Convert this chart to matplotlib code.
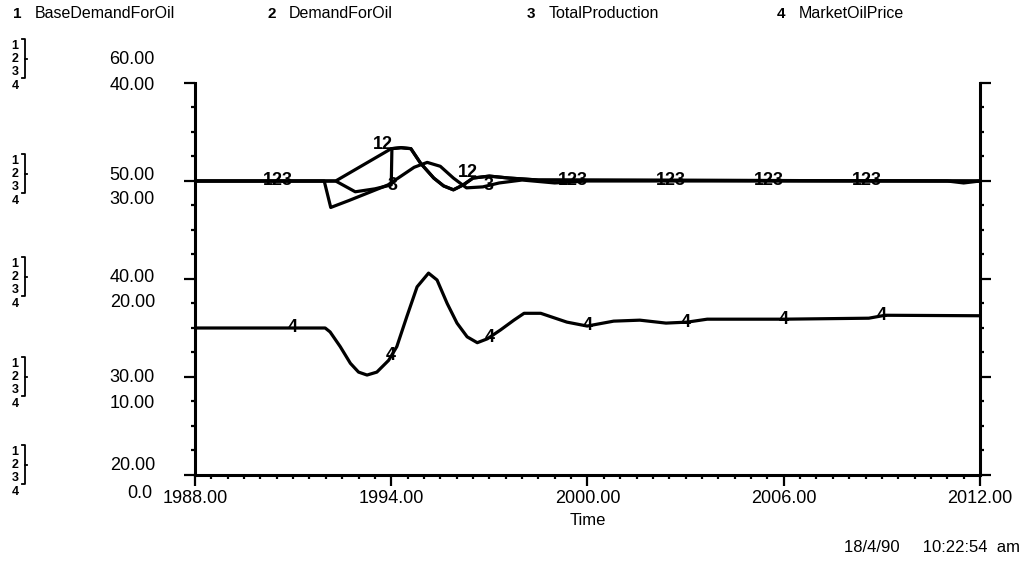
import numpy as np
import matplotlib
matplotlib.use("Agg")
import matplotlib.pyplot as plt
from matplotlib.lines import Line2D
from matplotlib.ticker import MultipleLocator

plt.rcParams['font.family'] = ['Liberation Sans', 'DejaVu Sans']

# --- series (time in years) ---
# 1..3 share the 20-60 scale, 4 uses the 0-40 scale
BASE_T = [1988, 1992.3, 1992.9, 1993.5, 1994.0, 1994.02, 1994.3, 1994.6, 1994.9, 1995.3,
          1995.6, 1995.9, 1996.2, 1996.5, 1997.0, 1997.6, 1998.5, 2012]
BASE_V = [50.0, 50.0, 48.9, 49.2, 49.6, 53.3, 53.4, 53.3, 51.8, 50.3,
          49.5, 49.1, 49.6, 50.3, 50.5, 50.3, 50.1, 50.0]

DEMAND_T = [1988, 1992.3, 1994.0, 1994.3, 1994.6, 1994.9, 1995.3,
            1995.6, 1995.9, 1996.2, 1996.5, 1997.0, 1997.6, 1998.5, 2012]
DEMAND_V = [50.0, 50.0, 53.3, 53.4, 53.3, 51.8, 50.3,
            49.5, 49.1, 49.6, 50.3, 50.5, 50.3, 50.1, 50.0]

PROD_T = [1988, 1991.95, 1992.15, 1992.7, 1993.3, 1993.9, 1994.3, 1994.7, 1995.1, 1995.5,
          1995.9, 1996.3, 1996.8, 1997.3, 1998.0, 1999.0, 2000.0, 2011.0, 2011.5, 2012]
PROD_V = [50.0, 50.0, 47.3, 48.0, 48.8, 49.6, 50.5, 51.4, 51.9, 51.5,
          50.3, 49.3, 49.4, 49.8, 50.1, 49.8, 50.0, 50.0, 49.8, 50.0]

PRICE_T = [1988, 1991.98, 1992.13, 1992.44, 1992.75, 1993.0, 1993.26, 1993.56, 1993.92,
           1994.17, 1994.48, 1994.79, 1995.14, 1995.4, 1995.71, 1996.01, 1996.32, 1996.63,
           1996.94, 1997.34, 1997.75, 1998.06, 1998.57, 1999.37, 1999.99, 2000.8, 2001.6,
           2002.4, 2003.05, 2003.66, 2006.0, 2008.6, 2009.1, 2012]
PRICE_V = [15.0, 15.0, 14.6, 13.1, 11.4, 10.5, 10.2, 10.5, 11.7,
           13.1, 16.2, 19.2, 20.6, 19.9, 17.5, 15.5, 14.1, 13.5,
           13.9, 14.8, 15.8, 16.5, 16.5, 15.6, 15.2, 15.7, 15.8,
           15.5, 15.6, 15.9, 15.9, 16.0, 16.3, 16.25]

NAMES = ["BaseDemandForOil", "DemandForOil", "TotalProduction", "MarketOilPrice"]
LEFT_TOP = [20, 30, 40, 50, 60]          # scale for 1-3
LEFT_BOT = [0, 10, 20, 30, 40]           # scale for 4
XTICKS = [1988, 1994, 2000, 2006, 2012]

# curve labels on the 1-3 scale: (text, time, value)
TOP_LABELS = [("123", 1990.54, 50.0), ("12", 1993.75, 53.7), ("3", 1994.03, 49.5),
              ("12", 1996.33, 50.9), ("3", 1996.97, 49.5), ("123", 1999.54, 50.0),
              ("123", 2002.54, 50.0), ("123", 2005.54, 50.0), ("123", 2008.54, 50.0)]
PRICE_LABEL_T = [1991, 1994, 1997, 2000, 2003, 2006, 2009]

W, H = 1029, 573
fig = plt.figure(figsize=(W / 100, H / 100), dpi=100)
fx = lambda px: px / W
fy = lambda py: 1 - py / H
ax = fig.add_axes([fx(195), fy(475), fx(980) - fx(195), fy(83) - fy(475)])
ax4 = ax.twinx()

k = dict(color="black", lw=2.3, solid_joinstyle="round")
ax.plot(BASE_T, BASE_V, **k)
ax.plot(DEMAND_T, DEMAND_V, **k)
ax.plot(PROD_T, PROD_V, **k)
ax4.plot(PRICE_T, PRICE_V, **k)

ax.set_xlim(1988, 2012)
ax.set_ylim(20, 60)
ax4.set_ylim(0, 40)

for txt, t, v in TOP_LABELS:
    ax.text(t, v, txt, ha="center", va="center", fontsize=13, fontweight="bold")
for t in PRICE_LABEL_T:
    ax4.text(t, np.interp(t, PRICE_T, PRICE_V), "4", ha="center", va="center",
             fontsize=13, fontweight="bold")

# frame: left / right / bottom only
ax.spines["top"].set_visible(False)
for s in ["left", "right", "bottom"]:
    ax.spines[s].set_linewidth(2.2)
for s in ax4.spines.values():
    s.set_visible(False)
ax4.tick_params(right=False, labelright=False)

ax.set_yticks(LEFT_TOP)
ax.yaxis.set_minor_locator(MultipleLocator(2.5))
ax.tick_params(axis="y", which="both", left=True, right=True, labelleft=False,
               direction="out", width=1.6)
ax.tick_params(axis="y", which="major", length=8)
ax.tick_params(axis="y", which="minor", length=3)

ax.set_xticks(XTICKS)
ax.set_xticklabels([f"{x:.2f}" for x in XTICKS], fontsize=13)
ax.xaxis.set_minor_locator(MultipleLocator(0.5))
ax.tick_params(axis="x", which="major", direction="out", length=8, width=1.6, pad=3)
ax.tick_params(axis="x", which="minor", direction="out", length=3, width=1.6)
ax.set_xlabel("Time", fontsize=12, labelpad=4)

# header legend
for i, (name, x) in enumerate(zip(NAMES, [13, 267, 527, 777])):
    fig.text(fx(x), fy(14), f"{i + 1}", fontsize=11, fontweight="bold", va="center")
    fig.text(fx(x + 22), fy(14), name, fontsize=11.5, va="center")

# stacked scale labels on the left
first_line = [60, 175, 278, 378, 466]
for top_v, bot_v, y1 in zip(LEFT_TOP[::-1], LEFT_BOT[::-1], first_line):
    fig.text(fx(155), fy(y1), f"{top_v:.2f}", ha="right", va="center", fontsize=13)
    bot_txt = "0.0" if bot_v == 0 else f"{bot_v:.2f}"
    fig.text(fx(155 if bot_v else 152), fy(y1 + 25 if bot_v else y1 + 28), bot_txt,
             ha="right", va="center", fontsize=13)
    for j, dy in enumerate([-14, -1, 12, 26]):
        fig.text(fx(15), fy(y1 + dy), str(j + 1), ha="center", va="center",
                 fontsize=9, fontweight="bold")
    ytop, ybot = fy(y1 - 21), fy(y1 + 18)
    fig.add_artist(Line2D([fx(22), fx(25), fx(25), fx(22)], [ytop, ytop, ybot, ybot],
                          transform=fig.transFigure, color="black", lw=1.3))
    fig.add_artist(Line2D([fx(25), fx(27)], [fy(y1 - 1)] * 2,
                          transform=fig.transFigure, color="black", lw=1.3))

fig.text(fx(1020), fy(548), "18/4/90     10:22:54  am", ha="right", va="center", fontsize=12)

fig.savefig("out.png", dpi=100)
